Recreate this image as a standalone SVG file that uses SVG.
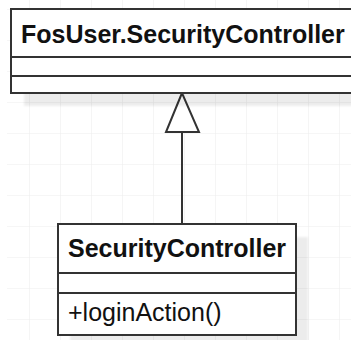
<svg xmlns="http://www.w3.org/2000/svg" width="351" height="340" viewBox="0 0 351 340">
  <defs>
    <pattern id="grid" x="29" y="9" width="31" height="31" patternUnits="userSpaceOnUse">
      <path d="M0 0V31M0 0H31" fill="none" stroke="#eeeeee" stroke-width="1.2"/>
    </pattern>
    <filter id="soft" x="-10%" y="-10%" width="120%" height="120%">
      <feGaussianBlur stdDeviation="1.2"/>
    </filter>
  </defs>
  <style>
    .box { fill: #ffffff; stroke: #333333; stroke-width: 2; }
    .div { stroke: #333333; stroke-width: 2; }
    .shadow { fill: #000000; opacity: 0.07; filter: url(#soft); }
    .name { font-family: "Liberation Sans", Arial, sans-serif; font-weight: bold; font-size: 25px; fill: #111111; }
    .member { font-family: "Liberation Sans", Arial, sans-serif; font-size: 25px; fill: #111111; }
    .edge { stroke: #333333; stroke-width: 2; fill: none; }
    .head { stroke: #333333; stroke-width: 2; fill: #ffffff; stroke-linejoin: miter; }
  </style>

  <rect width="351" height="340" fill="#ffffff"/>
  <rect x="7" y="0" width="344" height="340" fill="url(#grid)"/>

  <g id="connectors">
    <line class="edge" x1="182" y1="132" x2="182" y2="224"/>
    <polygon class="head" points="182,93 166,132 199,132"/>
  </g>

  <g id="node-fosuser-securitycontroller">
    <rect class="shadow" x="24" y="22" width="340" height="84"/>
    <rect class="box" x="11" y="9" width="350" height="84"/>
    <line class="div" x1="11" y1="57" x2="361" y2="57"/>
    <line class="div" x1="11" y1="76" x2="361" y2="76"/>
    <text class="name" x="21" y="43">FosUser.SecurityController</text>
  </g>

  <g id="node-securitycontroller">
    <rect class="shadow" x="70" y="237" width="238" height="111"/>
    <rect class="box" x="58" y="224" width="238" height="111"/>
    <line class="div" x1="58" y1="273" x2="296" y2="273"/>
    <line class="div" x1="58" y1="293" x2="296" y2="293"/>
    <text class="name" x="68" y="257">SecurityController</text>
    <text class="member" x="68" y="321">+loginAction()</text>
  </g>
</svg>
